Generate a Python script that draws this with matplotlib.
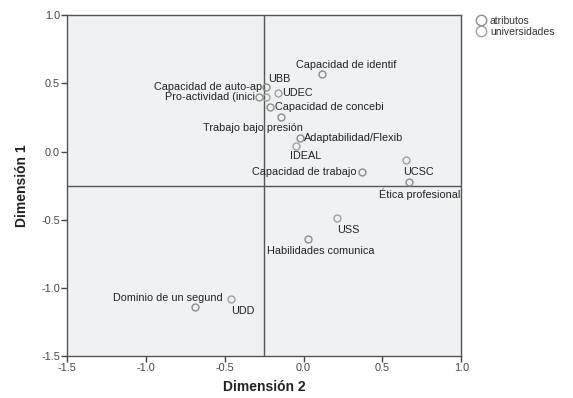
import matplotlib
matplotlib.use('Agg')
import matplotlib.pyplot as plt

plt.rcParams['font.family'] = ['Liberation Sans', 'DejaVu Sans']

# atributos (Dimension 2, Dimension 1)
attr_names = ['Capacidad de identif', 'Capacidad de auto-ap', 'Pro-actividad (inici',
              'Capacidad de concebi', 'Trabajo bajo presión', 'Adaptabilidad/Flexib',
              'Capacidad de trabajo', 'Ética profesional', 'Habilidades comunica',
              'Dominio de un segund']
attr_x = [0.12, -0.24, -0.28, -0.21, -0.14, -0.02, 0.37, 0.67, 0.03, -0.69]
attr_y = [0.57, 0.47, 0.40, 0.33, 0.25, 0.10, -0.15, -0.22, -0.64, -1.14]

# universidades
uni_names = ['UBB', 'UDEC', 'IDEAL', 'UCSC', 'USS', 'UDD']
uni_x = [-0.24, -0.16, -0.05, 0.65, 0.21, -0.46]
uni_y = [0.40, 0.43, 0.04, -0.06, -0.49, -1.08]

# label offsets in pixels (dx, dy, ha)
attr_off = [(24, 9, 'center'), (-4, 0, 'right'), (-4, 0, 'right'), (5, 0, 'left'),
            (-29, -11, 'center'), (4, 0, 'left'), (-5, 0, 'right'), (10, -13, 'center'),
            (12, -12, 'center'), (-27, 9, 'center')]
uni_off = [(14, 18, 'center'), (4, 0, 'left'), (10, -10, 'center'), (12, -12, 'center'),
           (12, -12, 'center'), (12, -12, 'center')]

fig = plt.figure(figsize=(5.73, 3.98), dpi=100)
ax = fig.add_axes([0.117, 0.105, 0.688, 0.857])
ax.set_facecolor('#F0F1F3')

ax.axvline(-0.25, color='#555555', lw=1, zorder=1)
ax.axhline(-0.25, color='#555555', lw=1, zorder=1)

ax.plot(attr_x, attr_y, 'o', mfc='none', mec='#8C8C8C', ms=5, mew=1, label='atributos', zorder=3)
ax.plot(uni_x, uni_y, 'o', mfc='none', mec='#A0A0A0', ms=5, mew=1, label='universidades', zorder=3)

for names, xs, ys, offs in [(attr_names, attr_x, attr_y, attr_off), (uni_names, uni_x, uni_y, uni_off)]:
    for n, x, y, (dx, dy, ha) in zip(names, xs, ys, offs):
        ax.annotate(n, (x, y), xytext=(dx, dy), textcoords='offset pixels',
                    ha=ha, va='center', fontsize=7.8, color='#222222', annotation_clip=False)

ax.set_xlim(-1.5, 1.0)
ax.set_ylim(-1.5, 1.0)
ax.set_xticks([-1.5, -1.0, -0.5, 0.0, 0.5, 1.0])
ax.set_yticks([-1.5, -1.0, -0.5, 0.0, 0.5, 1.0])
ax.set_xticklabels(['-1.5', '-1.0', '-0.5', '0.0', '0.5', '1.0'])
ax.set_yticklabels(['-1.5', '-1.0', '-0.5', '0.0', '0.5', '1.0'])
ax.tick_params(direction='out', length=4, width=1, color='#444444', labelsize=7.8, labelcolor='#444444', pad=1)
for s in ax.spines.values():
    s.set_color('#555555')
    s.set_linewidth(1)

ax.set_xlabel('Dimensión 2', fontsize=10, fontweight='bold', color='#222222', labelpad=5)
ax.set_ylabel('Dimensión 1', fontsize=10, fontweight='bold', color='#222222', labelpad=9)

fig.legend(loc='upper left', bbox_to_anchor=(0.825, 0.97), frameon=False, fontsize=7.5,
           markerscale=1.5, handlelength=0.8, handletextpad=0.45, labelspacing=0.05,
           borderaxespad=0, labelcolor='#333333')

fig.savefig('out.png', dpi=100)
